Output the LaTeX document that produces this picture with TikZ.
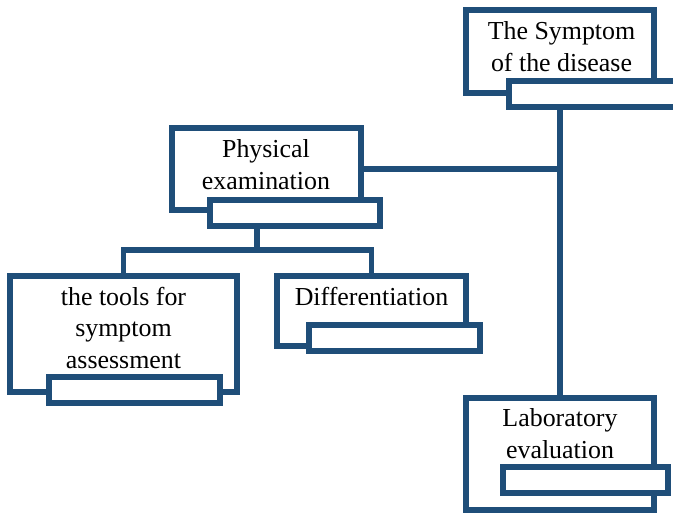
\documentclass[tikz,border=0pt]{standalone}
\usepackage{fontspec}
\setmainfont{Liberation Serif}
\definecolor{boxblue}{RGB}{31,78,121}
\begin{document}
\begin{tikzpicture}[x=1bp,y=-1bp,
    mainbox/.style={draw=boxblue,line width=5.5bp,fill=white,inner sep=0pt},
    subbox/.style={draw=boxblue,line width=5.5bp,fill=white,inner sep=0pt,minimum height=26bp},
    link/.style={draw=boxblue,line width=5.5bp},
    lbl/.style={align=center,inner sep=0pt,font=\rmfamily\fontsize{26}{32}\selectfont}]
    \useasboundingbox (0,0) rectangle (673,515);
    % main boxes
    \node[mainbox,minimum width=188bp,minimum height=83bp] (sym) at (560,51.5) {};
    \node[mainbox,minimum width=189bp,minimum height=82bp] (phys) at (266.5,169) {};
    \node[mainbox,minimum width=227bp,minimum height=116bp] (tools) at (123.5,334) {};
    \node[mainbox,minimum width=189bp,minimum height=70bp] (diff) at (371.5,311) {};
    \node[mainbox,minimum width=188bp,minimum height=112bp] (lab) at (560,454) {};
    % bars at the bottom of the boxes
    \node[subbox,minimum width=167bp] (symsub) at (592.5,94) {};
    \node[subbox,minimum width=170bp] (physsub) at (295,213) {};
    \node[subbox,minimum width=171bp] (toolssub) at (134.5,390) {};
    \node[subbox,minimum width=171bp] (diffsub) at (394.5,338) {};
    \node[subbox,minimum width=165bp] (labsub) at (585.5,480) {};
    % texts
    \node[lbl] (symtxt) at (561.5,47) {The Symptom\\of the disease};
    \node[lbl] (phystxt) at (266,164.5) {Physical\\examination};
    \node[lbl] (toolstxt) at (123.5,328) {the tools for\\symptom\\assessment};
    \node[lbl] (difftxt) at (371.5,297) {Differentiation};
    \node[lbl] (labtxt) at (560,434) {Laboratory\\evaluation};
    % connectors
    \coordinate (fork) at (257,250);
    \draw[link] (lab.north |- symsub.south) -- (lab.north);
    \draw[link] (phys.east) -- (phys.east -| lab.north);
    \draw[link] (fork |- physsub.south) -- (fork);
    \draw[link] (tools.north) |- (fork) -| (diff.north);
\end{tikzpicture}
\end{document}
